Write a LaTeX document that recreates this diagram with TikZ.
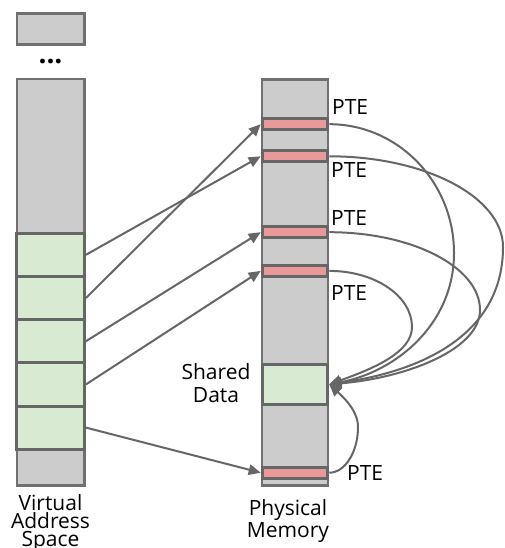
\documentclass[tikz,border=0pt]{standalone}
\usepackage{fontspec}
\setmainfont{Open Sans}
\usetikzlibrary{arrows.meta}

\definecolor{memgray}{HTML}{CCCCCC}
\definecolor{coledge}{HTML}{707070}
\definecolor{boxedge}{HTML}{666666}
\definecolor{pagegreen}{HTML}{D9EAD3}
\definecolor{ptered}{HTML}{EA9999}
\definecolor{linkgray}{HTML}{666666}

\begin{document}
\begin{tikzpicture}[x=1pt,y=-1pt,
  memcol/.style={draw=coledge, fill=memgray, line width=2.5pt, inner sep=0pt},
  vpage/.style={draw=boxedge, fill=pagegreen, line width=3pt, inner sep=0pt,
    minimum width=67.5pt, minimum height=43.2pt},
  ppage/.style={draw=boxedge, fill=pagegreen, line width=3pt, inner sep=0pt,
    minimum width=65.6pt, minimum height=40.3pt},
  pte/.style={draw=boxedge, fill=ptered, line width=3pt, inner sep=0pt,
    minimum width=65.6pt, minimum height=11pt},
  txt/.style={inner sep=0pt, text=black, font=\fontsize{21}{18}\selectfont},
  link/.style={draw=linkgray, line width=2pt, -{Triangle[length=12pt,width=10.5pt]}},
]
\useasboundingbox (0,0) rectangle (504,548);

% virtual address space
\node[memcol, minimum width=67.5pt, minimum height=31pt] (vtop) at (50.7,29.2) {};
\node[txt, font=\fontsize{28}{28}\bfseries, anchor=base] (dots) at (50.5,63.5) {...};
\node[memcol, minimum width=67.5pt, minimum height=406.7pt] (vcol) at (50.7,282.3) {};
\node[vpage] (v1) at (50.7,254.8) {};
\node[vpage] (v2) at (50.7,298.0) {};
\node[vpage] (v3) at (50.7,341.2) {};
\node[vpage] (v4) at (50.7,384.4) {};
\node[vpage] (v5) at (50.7,427.6) {};
\node[txt, align=center, anchor=north] (vname) at (50.5,494) {Virtual\\Address\\Space};

% physical memory
\node[memcol, minimum width=66.1pt, minimum height=405.9pt] (pcol) at (295,282.5) {};
\node[pte] (p1) at (295,124.2) {};
\node[pte] (p2) at (295,156.3) {};
\node[pte] (p3) at (295,232.2) {};
\node[pte] (p4) at (295,270.9) {};
\node[pte] (p5) at (295,472.7) {};
\node[ppage] (shared) at (295,384.3) {};
\node[txt, font=\fontsize{21}{23.7}\selectfont, align=center, anchor=north] (sname) at (216,363) {Shared\\Data};
\node[txt, font=\fontsize{21}{22}\selectfont, align=center, anchor=north] (pname) at (288,499) {Physical\\Memory};

% PTE labels
\node[txt, anchor=base west] (l1) at (332,115) {PTE};
\node[txt, anchor=base west] (l2) at (331,178) {PTE};
\node[txt, anchor=base west] (l3) at (331,225) {PTE};
\node[txt, anchor=base west] (l4) at (331,300) {PTE};
\node[txt, anchor=base west] (l5) at (347,480) {PTE};

% virtual pages to their page table entries
\draw[link] (v1.east) -- (p2.west);
\draw[link] (v2.east) -- (p1.west);
\draw[link] (v3.east) -- (p3.west);
\draw[link] (v4.east) -- (p4.west);
\draw[link] (v5.east) -- (p5.west);

% every entry points at the shared frame
\draw[link] (p1.east) .. controls (398,124.2) and (454,182) .. (454,253)
  .. controls (454,325) and (395,372) .. (shared.east);
\draw[link] (p2.east) .. controls (425,156.3) and (503,197) .. (503,247)
  .. controls (503,330) and (430,370) .. (shared.east);
\draw[link] (p3.east) .. controls (412,232.2) and (480,267) .. (480,310)
  .. controls (480,350) and (405,378) .. (shared.east);
\draw[link] (p4.east) .. controls (375,270.9) and (412,296) .. (412,327)
  .. controls (412,352) and (375,368) .. (shared.east);
\draw[link] (p5.east) .. controls (345,472.7) and (358,452) .. (358,427)
  .. controls (358,410) and (342,396) .. (shared.east);
\end{tikzpicture}
\end{document}
